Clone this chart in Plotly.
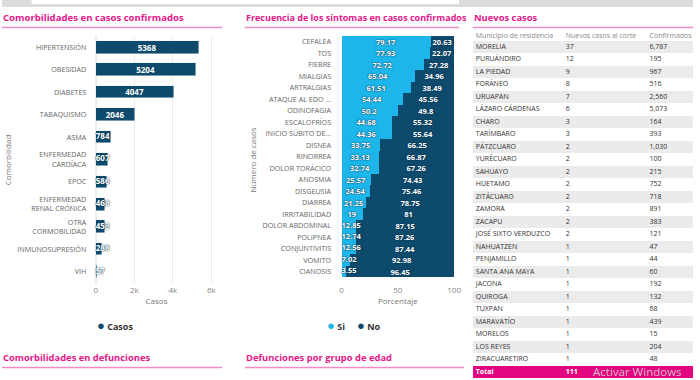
import plotly.graph_objects as go

W, H = 700, 380
def px(x): return x / W
def py(y): return 1 - y / H

# ---------------- data ----------------
comorb = ["HIPERTENSIÓN", "OBESIDAD", "DIABETES", "TABAQUISMO", "ASMA",
          "ENFERMEDAD<br>CARDÍACA", "EPOC", "ENFERMEDAD<br>RENAL CRÓNICA",
          "OTRA<br>CORMOBILIDAD", "INMUNOSUPRESIÓN", "VIH"]
comorb_casos = [5368, 5204, 4047, 2046, 784, 607, 586, 468, 453, 288, 57]

sintomas = ["CEFALEA", "TOS", "FIEBRE", "MIALGIAS", "ARTRALGIAS", "ATAQUE AL EDO ...",
            "ODINOFAGIA", "ESCALOFRÍOS", "INICIO SÚBITO DE...", "DISNEA", "RINORREA",
            "DOLOR TORÁCICO", "ANOSMIA", "DISGEUSIA", "DIARREA", "IRRITABILIDAD",
            "DOLOR ABDOMINAL", "POLIPNEA", "CONJUNTIVITIS", "VOMITO", "CIANOSIS"]
sint_si = [79.17, 77.93, 72.72, 65.04, 61.51, 54.44, 50.2, 44.68, 44.36, 33.75, 33.13,
           32.74, 25.57, 24.54, 21.25, 19, 12.85, 12.74, 12.56, 7.02, 3.55]
sint_no = [20.63, 22.07, 27.28, 34.96, 38.49, 45.56, 49.8, 55.32, 55.64, 66.25, 66.87,
           67.26, 74.43, 75.46, 78.75, 81, 87.15, 87.26, 87.44, 92.98, 96.45]

municipios = ["MORELIA", "PURUÁNDIRO", "LA PIEDAD", "FORÁNEO", "URUAPAN", "LÁZARO CÁRDENAS",
              "CHARO", "TARÍMBARO", "PÁTZCUARO", "YURÉCUARO", "SAHUAYO", "HUETAMO",
              "ZITÁCUARO", "ZAMORA", "ZACAPU", "JOSÉ SIXTO VERDUZCO", "NAHUATZEN",
              "PENJAMILLO", "SANTA ANA MAYA", "JACONA", "QUIROGA", "TUXPAN", "MARAVATÍO",
              "MORELOS", "LOS REYES", "ZIRACUARETIRO"]
nuevos_casos = [37, 12, 9, 8, 7, 6, 3, 3, 2, 2, 2, 2, 2, 2, 2, 2, 1, 1, 1, 1, 1, 1, 1, 1, 1, 1]
confirmados = [6787, 195, 967, 516, 2560, 5073, 164, 393, 1030, 100, 215, 752, 718, 891,
               383, 121, 47, 44, 60, 192, 132, 68, 439, 15, 204, 48]
table_header = ["Municipio de residencia", "Nuevos casos al corte", "Confirmados"]

# ---------------- styles ----------------
DARK = "#0d4a6b"
LIGHT = "#1db6ea"
PINK = "#e3178a"
PINK_LINE = "#f08cc6"
GREY_TXT = "#666666"
FONT = "Open Sans"
SHADOW = "0px 0px 1.5px #0b3550, 0px 0px 1px #0b3550"

fig = go.Figure()

# ---------- left: comorbidities ----------
c_fit = [v >= 1000 for v in comorb_casos]
fig.add_trace(go.Bar(
    x=comorb_casos, y=comorb, orientation="h", marker_color=DARK, width=0.56,
    text=[str(v) for v in comorb_casos],
    textposition=["inside" if f else "none" for f in c_fit], textangle=0,
    insidetextanchor="middle", constraintext="none",
    textfont=dict(size=8, family=FONT, weight="bold", color="white"),
    showlegend=False, xaxis="x", yaxis="y", hoverinfo="x+y"))
fig.add_trace(go.Scatter(
    x=[0] * sum(not f for f in c_fit),
    y=[c for c, f in zip(comorb, c_fit) if not f],
    text=[str(v) for v, f in zip(comorb_casos, c_fit) if not f],
    mode="text", textposition="middle right", cliponaxis=False,
    textfont=dict(size=8, family=FONT, weight="bold", color="white", shadow=SHADOW),
    showlegend=False, hoverinfo="skip", xaxis="x", yaxis="y"))

# ---------- middle: symptoms (stacked) ----------
s_fit = [v * 1.14 > len(f"{v:g}") * 4.0 for v in sint_si]
fig.add_trace(go.Bar(
    x=sint_si, y=sintomas, orientation="h", marker=dict(color=LIGHT, line_width=0),
    name="Si", text=[f"{v:g}" for v in sint_si],
    textposition=["inside" if f else "none" for f in s_fit], textangle=0,
    insidetextanchor="middle", constraintext="none",
    textfont=dict(size=7.5, family=FONT, color="white", weight="bold", shadow=SHADOW),
    showlegend=False, xaxis="x2", yaxis="y2"))
fig.add_trace(go.Bar(
    x=sint_no, y=sintomas, orientation="h", marker=dict(color=DARK, line_width=0),
    name="No", text=[f"{v:g}" for v in sint_no], textposition="inside", textangle=0,
    insidetextanchor="middle", constraintext="none",
    textfont=dict(size=7.5, family=FONT, color="white", weight="bold", shadow=SHADOW),
    showlegend=False, xaxis="x2", yaxis="y2"))
fig.add_trace(go.Scatter(
    x=[0] * sum(not f for f in s_fit),
    y=[s for s, f in zip(sintomas, s_fit) if not f],
    text=[f"{v:g}" for v, f in zip(sint_si, s_fit) if not f],
    mode="text", textposition="middle right", cliponaxis=False,
    textfont=dict(size=7.5, family=FONT, weight="bold", color="white", shadow=SHADOW),
    showlegend=False, hoverinfo="skip", xaxis="x2", yaxis="y2"))

# ---------- right: table (rows on their own axes) ----------
n = len(municipios)
rows = list(range(n + 1))
fills = ["#ebebeb" if i % 2 == 0 else "rgba(255,255,255,0)" for i in range(n)] + ["#e2057f"]
fig.add_trace(go.Bar(
    x=[1] * (n + 1), y=rows, orientation="h", width=0.92, marker=dict(color=fills, line_width=0),
    showlegend=False, hoverinfo="skip", xaxis="x3", yaxis="y3"))
col_x = [3 / 223, 94 / 223, 179 / 223]
col_vals = [municipios + ["<b>Total</b>"],
            [str(v) for v in nuevos_casos] + [f"<b>{sum(nuevos_casos)}</b>"],
            [f"{v:,}" for v in confirmados] + [""]]
tcolors = ["#333333"] * n + ["white"]
for cx, head, vals in zip(col_x, table_header, col_vals):
    fig.add_trace(go.Scatter(
        x=[cx] * (n + 2), y=[-0.9] + rows, text=[head] + vals, mode="text",
        textposition="middle right", cliponaxis=False,
        textfont=dict(size=7, family=FONT, color=["#8a8a8a"] + tcolors),
        showlegend=False, hoverinfo="skip", xaxis="x3", yaxis="y3"))

ydom = [py(284), py(36)]
axis_tick = dict(size=8, color="#888888", family=FONT)
fig.update_layout(
    width=W, height=H, margin=dict(l=0, r=0, t=0, b=0),
    paper_bgcolor="white", plot_bgcolor="white",
    barmode="stack", bargap=0, font=dict(family=FONT), showlegend=False,
    xaxis=dict(domain=[px(95), px(218)], range=[0, 6300], tickvals=[0, 2000, 4000, 6000],
               ticktext=["0", "2k", "4k", "6k"], showgrid=True, gridcolor="#ececec",
               zeroline=True, zerolinecolor="#ececec", tickfont=axis_tick,
               title=dict(text="Casos", font=dict(size=8, color="#777"), standoff=4),
               anchor="y", fixedrange=True),
    yaxis=dict(domain=ydom, categoryorder="array", categoryarray=comorb,
               autorange="reversed", tickfont=dict(size=7.2, color=GREY_TXT, family=FONT),
               ticks="outside", ticklen=7, tickcolor="white", showgrid=False,
               title=dict(text="Comorbilidad", font=dict(size=8, color="#777"), standoff=4),
               anchor="x", fixedrange=True),
    xaxis2=dict(domain=[px(344), px(458)], range=[0, 100], tickvals=[0, 50, 100],
                showgrid=False, zeroline=False, tickfont=axis_tick,
                title=dict(text="Porcentaje", font=dict(size=8, color="#777"), standoff=4),
                anchor="y2", fixedrange=True),
    yaxis2=dict(domain=ydom, categoryorder="array", categoryarray=sintomas,
                autorange="reversed", tickfont=dict(size=7.2, color=GREY_TXT, family=FONT),
                ticks="outside", ticklen=8, tickcolor="white", showgrid=False,
                title=dict(text="Número de casos", font=dict(size=8, color="#777"), standoff=4),
                anchor="x2", fixedrange=True),
    xaxis3=dict(domain=[px(477), 1], range=[0, 1], visible=False, anchor="y3", fixedrange=True),
    yaxis3=dict(domain=[py(378.25), py(28.25)], range=[n + 0.5, -1.5], visible=False,
                anchor="x3", fixedrange=True),
)

# legends (as annotations for exact placement)
legends = [("Casos", DARK, 94), ("Si", LIGHT, 327), ("No", DARK, 358)]
for name, col, x in legends:
    fig.add_annotation(
        text=f'<span style="color:{col};font-size:13px">●</span> <b>{name}</b>',
        x=px(x), y=py(325), xref="paper", yref="paper", xanchor="left",
        yanchor="middle", showarrow=False, font=dict(size=9, color="#333", family=FONT))

# section titles and pink underlines
titles = [("Comorbilidades en casos confirmados", 0, 17, 0, 223, 9.6),
          ("Frecuencia de los síntomas en casos confirmados", 246, 17, 246, 463, 9.0),
          ("Nuevos casos", 477, 17, 477, 700, 9.4),
          ("Comorbilidades en defunciones", 0, 357, 0, 223, 9.4),
          ("Defunciones por grupo de edad", 246, 357, 246, 468, 9.4)]
for txt, x, y, x0, x1, fs in titles:
    fig.add_annotation(text=f"<b>{txt}</b>", x=px(x - 1), y=py(y), xref="paper", yref="paper",
                       xanchor="left", yanchor="middle", showarrow=False,
                       font=dict(size=fs, color=PINK, family=FONT))
    fig.add_shape(type="line", xref="paper", yref="paper", x0=px(x0), x1=px(x1),
                  y0=py(y + 10.5), y1=py(y + 10.5), line=dict(color=PINK_LINE, width=1.5))

# top strip
fig.add_shape(type="rect", xref="paper", yref="paper", x0=0, x1=1, y0=py(7), y1=1,
              fillcolor="#dcdcdc", line_width=0, layer="below")
fig.add_shape(type="rect", xref="paper", yref="paper", x0=px(30), x1=px(463), y0=py(4), y1=1,
              fillcolor="white", line_width=0, layer="below")

fig.add_annotation(text="Activar Windows", x=px(597), y=py(371.5), xref="paper", yref="paper",
                   xanchor="left", yanchor="middle", showarrow=False,
                   font=dict(size=11.5, color="rgba(215,215,215,0.9)", family=FONT))

fig.write_html("out.html", config={"displayModeBar": False},
               post_script="document.body.style.margin='0';document.body.style.padding='0';")
